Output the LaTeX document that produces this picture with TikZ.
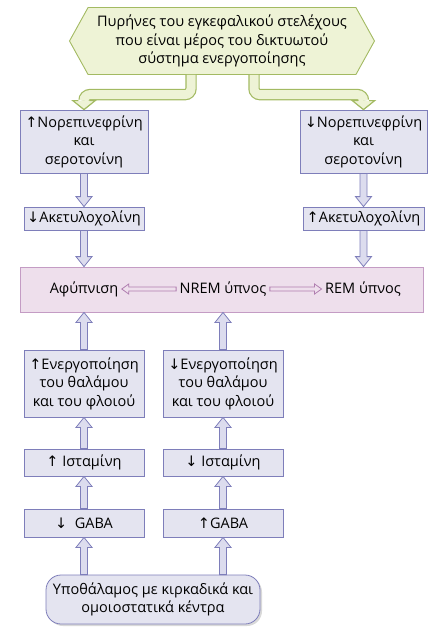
\documentclass[tikz,border=0pt]{standalone}
\usepackage{fontspec}
\setmainfont{Open Sans}
\newfontfamily\arrowfont{DejaVu Sans}
\usetikzlibrary{calc,positioning,shapes.symbols,shadows}
\newcommand{\upa}{{\arrowfont\char"2191}}
\newcommand{\dna}{{\arrowfont\char"2193}}
\definecolor{boxfill}{HTML}{E4E4F0}
\definecolor{boxline}{HTML}{7E7EBA}
\definecolor{arrowfill}{HTML}{DCDCEE}
\definecolor{pinkfill}{HTML}{EEDFEC}
\definecolor{pinkline}{HTML}{C49CC4}
\definecolor{purpline}{HTML}{B07EB0}
\definecolor{greenfill}{HTML}{EEF3D6}
\definecolor{greenline}{HTML}{A3BA62}
\tikzset{box/.style={draw=boxline,fill=boxfill,line width=0.8pt,align=center,inner sep=2pt}}
\tikzset{hollow/.style n args={5}{draw=#1,fill=#2,line width=0.8pt,line join=miter,
  to path={($(\tikztostart)!#3!90:(\tikztotarget)$)
   -- ($($(\tikztotarget)!#5!(\tikztostart)$)!#3!-90:(\tikztostart)$)
   -- ($($(\tikztotarget)!#5!(\tikztostart)$)!#4!-90:(\tikztostart)$)
   -- (\tikztotarget)
   -- ($($(\tikztotarget)!#5!(\tikztostart)$)!#4!90:(\tikztostart)$)
   -- ($($(\tikztotarget)!#5!(\tikztostart)$)!#3!90:(\tikztostart)$)
   -- ($(\tikztostart)!#3!-90:(\tikztotarget)$) -- cycle}}}
\tikzset{fat/.style={hollow={boxline}{arrowfill}{3.5pt}{8pt}{10pt}}}
\tikzset{slim/.style={hollow={purpline}{pinkfill}{2pt}{5pt}{7pt}}}
\tikzset{greenpipe/.style={draw=greenline,line width=1.2pt,double=greenfill,double distance=9pt,rounded corners=6pt}}
\tikzset{greenhead/.style={draw=greenline,fill=greenfill,line width=1.2pt,line join=miter}}

\begin{document}
\begin{tikzpicture}[x=1pt,y=-1pt,font=\fontsize{14.5}{18.5}\selectfont]
  \useasboundingbox (0,0) rectangle (441,641);
  % top of the network
  \node[signal,signal to=west and east,signal pointer angle=122,draw=greenline,fill=greenfill,
        line width=0.9pt,align=center,minimum width=305,minimum height=67,inner sep=1pt]
        (hex) at (222,41) {Πυρήνες του εγκεφαλικού στελέχους\\που είναι μέρος του δικτυωτού\\σύστημα ενεργοποίησης};
  \node[box,minimum width=128,minimum height=63] (n1L) at (84,141.5) {\upa Νορεπινεφρίνη\\και\\σεροτονίνη};
  \node[box,minimum width=127,minimum height=63] (n1R) at (363.5,141.5) {\dna Νορεπινεφρίνη\\και\\σεροτονίνη};
  \node[box,minimum width=120,minimum height=23] (a1L) at (84,218.5) {\dna Ακετυλοχολίνη};
  \node[box,minimum width=121,minimum height=23] (a1R) at (363.5,218.5) {\upa Ακετυλοχολίνη};
  % states
  \node[draw=pinkline,fill=pinkfill,line width=0.8pt,minimum width=403,minimum height=45] (sleep) at (221.5,289.5) {};
  \node (wake) at (84,289) {Αφύπνιση};
  \node (nrem) at (223,289) {NREM ύπνος};
  \node (rem) at (363,289) {REM ύπνος};
  \draw[slim] (nrem.west) to (wake.east);
  \draw[slim] (nrem.east) to (rem.west);
  % bottom part
  \node[box,minimum width=120,minimum height=67] (e1) at (84,383.5) {\upa Ενεργοποίηση\\του θαλάμου\\και του φλοιού};
  \node[box,minimum width=120,minimum height=67] (e2) at (223,383.5) {\dna Ενεργοποίηση\\του θαλάμου\\και του φλοιού};
  \node[box,minimum width=120,minimum height=27] (h1) at (84,462.5) {\upa\ Ισταμίνη};
  \node[box,minimum width=120,minimum height=27] (h2) at (223,462.5) {\dna\ Ισταμίνη};
  \node[box,minimum width=120,minimum height=28] (g1) at (84,523) {\dna\ \ GABA};
  \node[box,minimum width=120,minimum height=28] (g2) at (223,523) {\upa GABA};
  \node[box,rounded corners=15pt,minimum width=214,minimum height=49,
        drop shadow={opacity=0.3,shadow xshift=2pt,shadow yshift=-2pt}]
        (hyp) at (153,599.5) {Υποθάλαμος με κιρκαδικά και\\ομοιοστατικά κέντρα};
  % green arrows
  \draw[greenpipe] ($(hex.south)+(-31,0)$) |- ($(n1L.north)+(0,-15)$) -- ($(n1L.north)+(0,-9)$);
  \draw[greenpipe] ($(hex.south)+(32,0)$) |- ($(n1R.north)+(0,-15)$) -- ($(n1R.north)+(0,-9)$);
  \foreach \n in {n1L,n1R}
    \filldraw[greenhead] ($(\n.north)+(-5.6,-9)$) -- ++(-5.6,0) -- (\n.north) -- ++(11.2,-9) -- ++(-5.6,0);
  % hollow arrows
  \foreach \a/\b in {n1L/a1L,n1R/a1R}
    \draw[fat] (\a.south) to (\b.north);
  \foreach \a in {a1L,a1R}
    \draw[fat] (\a.south) to (\a.south |- sleep.north);
  \foreach \a in {e1,e2}
    \draw[fat] (\a.north) to (\a.north |- sleep.south);
  \foreach \a/\b in {h1/e1,h2/e2,g1/h1,g2/h2}
    \draw[fat] (\a.north) to (\b.south);
  \foreach \a in {g1,g2}
    \draw[fat] (\a.south |- hyp.north) to (\a.south);
\end{tikzpicture}
\end{document}
